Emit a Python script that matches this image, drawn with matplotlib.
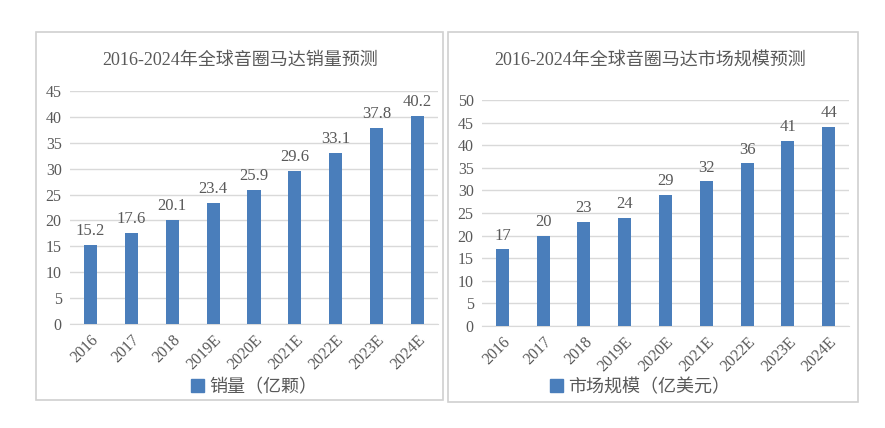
import matplotlib.pyplot as plt
from matplotlib.patches import Rectangle, Patch

plt.rcParams['font.family'] = ['Liberation Serif', 'Noto Sans CJK SC']

years = ['2016', '2017', '2018', '2019E', '2020E', '2021E', '2022E', '2023E', '2024E']
sales = [15.2, 17.6, 20.1, 23.4, 25.9, 29.6, 33.1, 37.8, 40.2]
market = [17, 20, 23, 24, 29, 32, 36, 41, 44]

bar_color = '#4a7ebb'
text_color = '#595959'
grid_color = '#d9d9d9'

fig = plt.figure(figsize=(8.85, 4.28), dpi=100)

# panel frames
fig.patches.append(Rectangle((36/885, 1-400/428), (443-36)/885, (400-32)/428,
                             transform=fig.transFigure, fill=False,
                             edgecolor='#d0d0d0', linewidth=1.2))
fig.patches.append(Rectangle((448/885, 1-402/428), (858-448)/885, (402-32)/428,
                             transform=fig.transFigure, fill=False,
                             edgecolor='#d0d0d0', linewidth=1.2))


def draw(ax, values, ymax, fmt, title, legend_label, title_x, legend_x):
    x = range(len(values))
    ax.bar(x, values, width=0.32, color=bar_color, zorder=3)
    for i, v in zip(x, values):
        ax.text(i, v + ymax * 0.025, fmt.format(v), ha='center', va='bottom',
                fontsize=12, color=text_color)
    ax.set_ylim(0, ymax)
    ax.set_xlim(-0.5, 8.5)
    ax.set_yticks(range(0, ymax + 1, 5))
    ax.yaxis.grid(True, color=grid_color, linewidth=1, zorder=0)
    ax.set_xticks(list(x))
    ax.set_xticklabels(years, rotation=45, ha='right', rotation_mode='anchor')
    ax.tick_params(axis='both', length=0, labelsize=11.5, colors=text_color, pad=6)
    for s in ax.spines.values():
        s.set_visible(False)
    ax.spines['bottom'].set_visible(True)
    ax.spines['bottom'].set_color(grid_color)
    fig.text(title_x, 1 - 60/428, title, ha='center', va='center',
             fontsize=13, color=text_color,
             family=['Liberation Serif', 'Noto Sans CJK SC'])
    fig.legend(handles=[Patch(color=bar_color, label=legend_label)],
               loc='center', bbox_to_anchor=(legend_x, 1 - 387/428),
               frameon=False, handlelength=0.7, handleheight=0.7,
               handletextpad=0.3, labelcolor=text_color,
               prop={'family': ['Noto Sans CJK SC'], 'size': 13})


ax1 = fig.add_axes([70/885, 1 - 324/428, 368/885, (324-91)/428])
draw(ax1, sales, 45, '{:.1f}', '2016-2024年全球音圈马达销量预测', '销量（亿颗）',
     240/885, 254/885)

ax2 = fig.add_axes([482/885, 1 - 326/428, 367/885, (326-100)/428])
draw(ax2, market, 50, '{:d}', '2016-2024年全球音圈马达市场规模预测', '市场规模（亿美元）',
     650/885, 640/885)

fig.savefig('out.png', dpi=100)
